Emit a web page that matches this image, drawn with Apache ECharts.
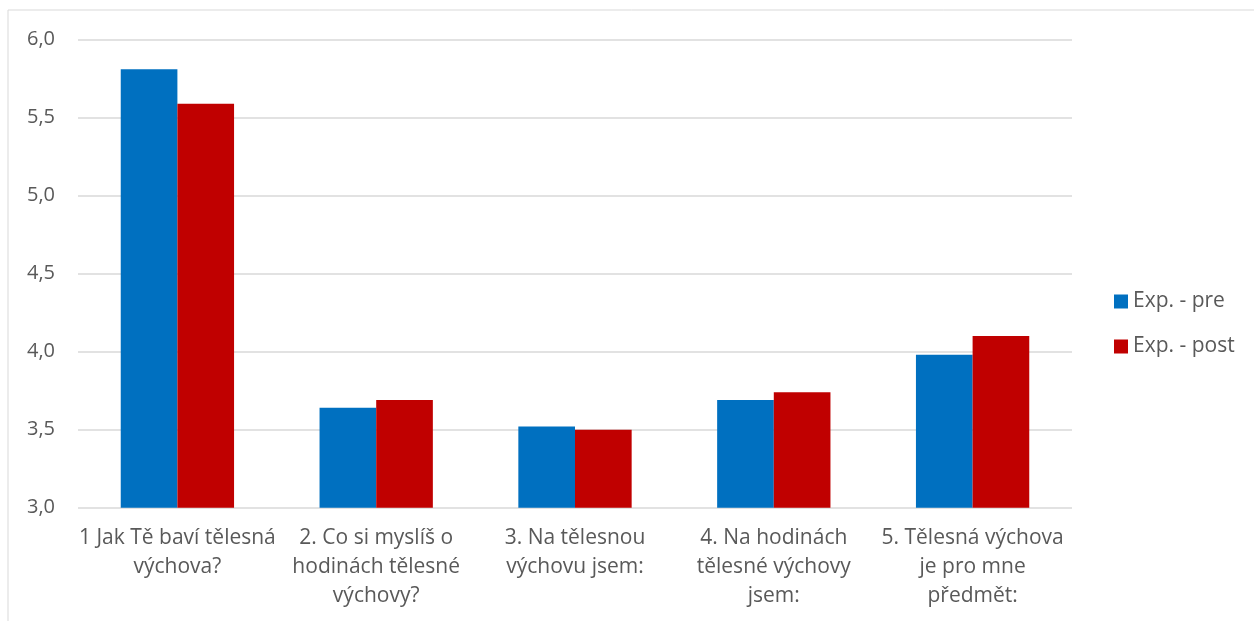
<!DOCTYPE html>
<html>
<head>
<meta charset="utf-8">
<script src="https://cdn.jsdelivr.net/npm/echarts@6/dist/echarts.min.js"></script>
<style>
  html, body { margin: 0; padding: 0; background: #ffffff; }
  #chart { width: 1254px; height: 621px; }
</style>
</head>
<body>
<div id="chart"></div>
<script>
// Question labels (line breaks as set in the axis)
const categories = [
  '1 Jak Tě baví tělesná\nvýchova?',
  '2. Co si myslíš o\nhodinách tělesné\nvýchovy?',
  '3. Na tělesnou\nvýchovu jsem:',
  '4. Na hodinách\ntělesné výchovy\njsem:',
  '5. Tělesná výchova\nje pro mne\npředmět:'
];
const seriesNames = ['Exp. - pre', 'Exp. - post'];
const preValues = [5.81, 3.64, 3.52, 3.69, 3.98];
const postValues = [5.59, 3.69, 3.50, 3.74, 4.10];

const FONT = '"Open Sans", Lato, sans-serif';
const TEXT = '#595959';

const chart = echarts.init(document.getElementById('chart'));
chart.setOption({
  animation: false,
  backgroundColor: '#ffffff',
  textStyle: { fontFamily: FONT },
  graphic: [{
    type: 'rect',
    shape: { x: 8, y: 10, width: 1300, height: 700 },
    style: { fill: 'none', stroke: '#d9d9d9', lineWidth: 1 },
    silent: true
  }],
  grid: { left: 78, right: 182, top: 39.7, bottom: 113.3 },
  legend: {
    orient: 'vertical',
    left: 1109,
    top: 286,
    itemWidth: 14,
    itemHeight: 14,
    itemGap: 24,
    icon: 'rect',
    textStyle: { color: TEXT, fontSize: 21, fontFamily: FONT },
    data: seriesNames
  },
  xAxis: {
    type: 'category',
    data: categories,
    axisLine: { show: false },
    axisTick: { show: false },
    axisLabel: {
      color: TEXT, fontSize: 21, fontFamily: FONT,
      lineHeight: 29, margin: 16, interval: 0
    }
  },
  yAxis: {
    type: 'value',
    min: 3.0,
    max: 6.0,
    interval: 0.5,
    axisLine: { show: false },
    axisTick: { show: false },
    splitLine: { lineStyle: { color: '#d9d9d9', width: 1.5 } },
    axisLabel: {
      color: TEXT, fontSize: 20, fontFamily: FONT, margin: 23,
      formatter: v => v.toFixed(1).replace('.', ',')
    }
  },
  series: [
    {
      name: seriesNames[0], type: 'bar', data: preValues,
      barGap: '0%', barCategoryGap: '43%',
      itemStyle: { color: '#0070c0' }
    },
    {
      name: seriesNames[1], type: 'bar', data: postValues,
      barGap: '0%', barCategoryGap: '43%',
      itemStyle: { color: '#c00000' }
    }
  ]
});
</script>
</body>
</html>
